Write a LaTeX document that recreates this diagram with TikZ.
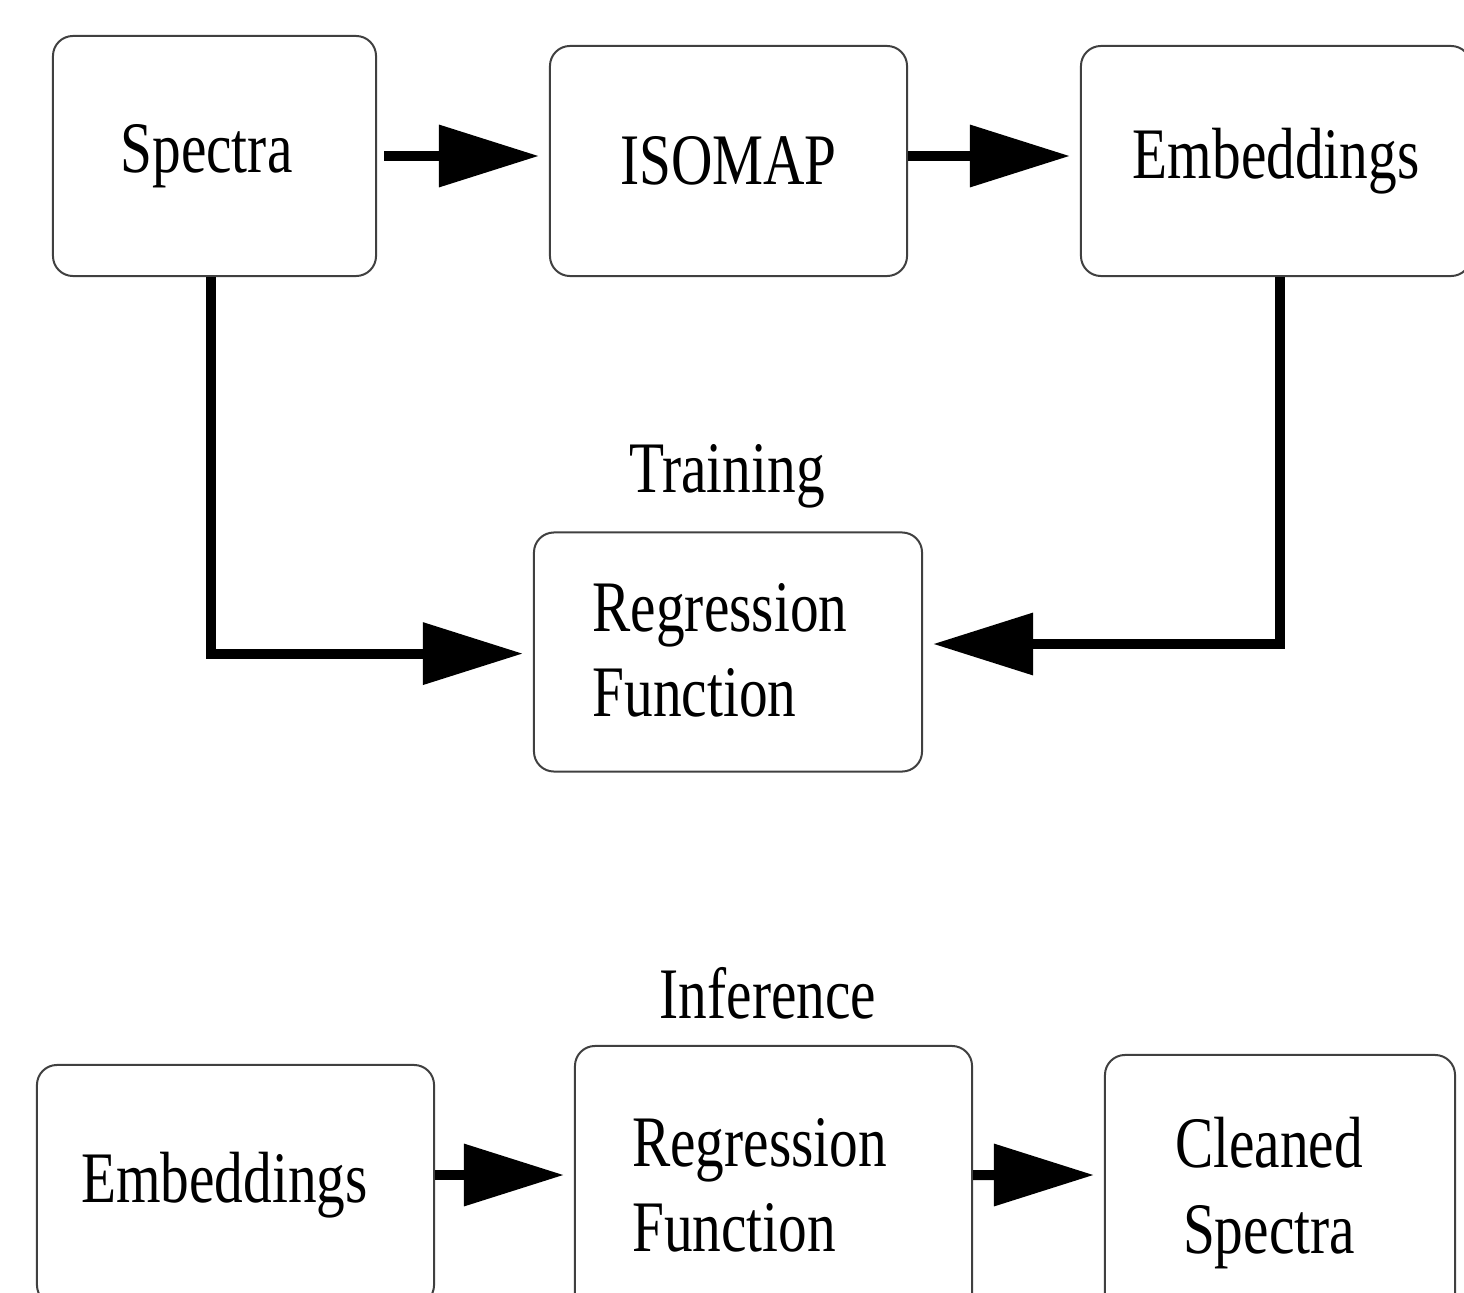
\documentclass[tikz,border=0pt]{standalone}
\usepackage{fontspec}
\setmainfont{Liberation Serif}[FakeStretch=0.79]
\usetikzlibrary{arrows.meta}

\begin{document}
\begin{tikzpicture}[x=0.025cm, y=-0.025cm,
		box/.style={draw=black!75, line width=0.05cm, rounded corners=0.5cm, align=left, inner sep=0pt},
		flow/.style={line width=0.25cm, -{Triangle[length=2.5cm, width=1.5cm]}, shorten >=0.25cm},
		every node/.style={font=\fontsize{51.6}{60.5}\selectfont}]
			%%%%% START %%%%%
			
			\path[use as bounding box, clip] (0, 0) rectangle (1464, 1293);
			
			\node[box, minimum width=8.075cm, minimum height=6cm] (spectra) at (214.5, 156) {Spectra\hspace*{0.4cm}};
			\node[box, minimum width=8.925cm, minimum height=5.75cm] (isomap) at (728.5, 161) {ISOMAP};
			\node[box, minimum width=9.75cm, minimum height=5.75cm] (embtop) at (1276, 161) {Embeddings};
			
			\node (training) at (727, 476) {Training};
			\node[box, minimum width=9.7cm, minimum height=5.975cm] (regtop) at (728, 652) {\raisebox{0.12cm}{Regression}\hspace*{0.4cm}\\\raisebox{0.12cm}{Function}};
			
			\draw[flow, shorten <=0.175cm] (spectra.east) -- (isomap.west |- spectra.east);
			\draw[flow] (isomap.east |- spectra.east) -- (embtop.west |- spectra.east);
			\draw[flow] ([xshift=-0.1cm]spectra.south) |- ([yshift=-0.04cm]regtop.west);
			\draw[flow] ([xshift=0.1cm]embtop.south) |- ([yshift=0.2cm]regtop.east);
			
			\node (inference) at (768, 993) {Inference};
			\node[box, minimum width=9.925cm, minimum height=6cm] (embbot) at (235.5, 1185) {Embeddings\hspace*{0.55cm}};
			\node[box, minimum width=9.925cm, minimum height=6.95cm] (regbot) at (773.5, 1185) {Regression\hspace*{0.7cm}\\Function};
			\node[box, minimum width=8.75cm, minimum height=6.9cm, align=center] (cleaned) at (1280, 1193) {Cleaned\hspace*{0.55cm}\\Spectra\hspace*{0.55cm}};
			
			\draw[flow] ([yshift=0.25cm]embbot.east) -- ([yshift=0.25cm]regbot.west);
			\draw[flow] ([yshift=0.25cm]regbot.east) -- ([yshift=0.45cm]cleaned.west);
			
			%%%%% END %%%%%
\end{tikzpicture}
\end{document}
